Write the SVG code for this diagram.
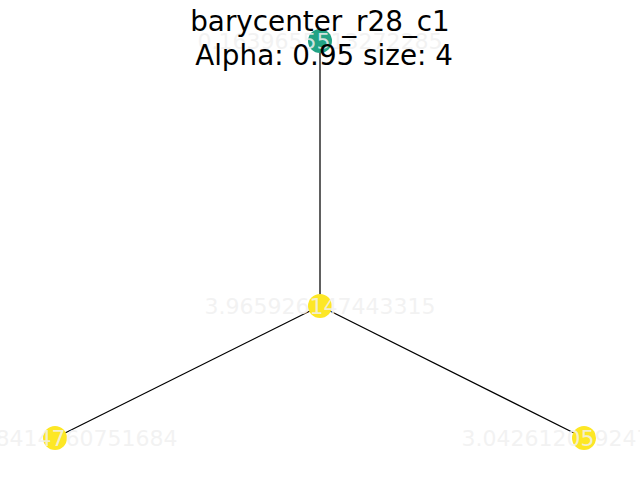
<svg xmlns="http://www.w3.org/2000/svg" width="640" height="480" viewBox="0 0 640 480">
<style>
.edge{stroke:#000;stroke-width:1.25;fill:none}
.n{stroke:none}
.lbl{font-family:"DejaVu Sans",sans-serif;font-size:22px;fill:#f0f0f0;fill-opacity:0.85;text-anchor:middle}
.title{font-family:"DejaVu Sans",sans-serif;font-size:27.8px;fill:#000;text-anchor:middle}
</style>
<rect width="640" height="480" fill="#fff"/>
<g id="connectors">
<line class="edge" x1="320" y1="306" x2="320" y2="41"/>
<line class="edge" x1="320" y1="306" x2="55" y2="438"/>
<line class="edge" x1="320" y1="306" x2="584" y2="438"/>
</g>
<g id="node-top"><circle class="n" cx="320" cy="41" r="12" fill="#22a385"/></g>
<g id="node-center"><circle class="n" cx="320" cy="306" r="12" fill="#fde725"/></g>
<g id="node-left"><circle class="n" cx="55" cy="438" r="12" fill="#fde725"/></g>
<g id="node-right"><circle class="n" cx="584" cy="438" r="12" fill="#fde725"/></g>
<g id="labels">
<text class="lbl" x="320" y="49">0.1639655513272285</text>
<text class="lbl" x="320" y="314">3.965926147443315</text>
<text class="lbl" x="55" y="446">0.3918414760751684</text>
<text class="lbl" x="584" y="446">3.0426120592473815</text>
</g>
<g id="title">
<text class="title" x="320" y="31">barycenter_r28_c1</text>
<text class="title" x="324" y="65">Alpha: 0.95 size: 4</text>
</g>
</svg>
